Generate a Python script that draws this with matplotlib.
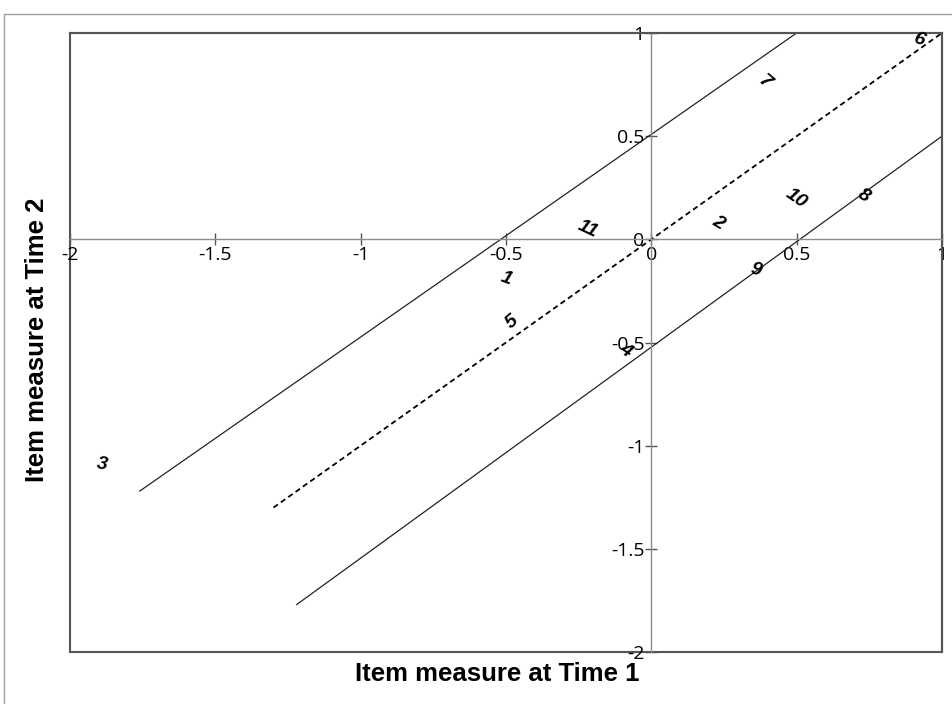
import matplotlib
matplotlib.use("Agg")
import matplotlib.pyplot as plt
from matplotlib.patches import Rectangle

# item labels and their positions (Time 1, Time 2)
item_names = ["1", "2", "3", "4", "5", "6", "7", "8", "9", "10", "11"]
time1 = [-0.50, 0.23, -1.89, -0.09, -0.48, 0.92, 0.39, 0.73, 0.36, 0.50, -0.22]
time2 = [-0.19, 0.08, -1.09, -0.54, -0.40, 0.97, 0.76, 0.21, -0.15, 0.20, 0.05]
label_rot = [-20, -30, -10, -35, 40, -20, -40, -30, -15, -35, -25]

# identity line and control lines
ident_x = [-1.3, 1.0]
ident_y = [-1.3, 1.0]
upper_x = [-1.76, 0.5]
upper_y = [-1.22, 1.0]
lower_x = [-1.22, 1.0]
lower_y = [-1.77, 0.5]

ticks_x = [-2, -1.5, -1, -0.5, 0, 0.5, 1]
ticks_y = [-2, -1.5, -1, -0.5, 0, 0.5, 1]

plt.rcParams['font.family'] = ['Open Sans', 'DejaVu Sans']

fig = plt.figure(figsize=(9.53, 7.04), dpi=100)
# outer light border (top and left visible)
fig.patches.append(Rectangle((4 / 953, -0.1), 1.2, 1.1 - 14 / 704,
                             transform=fig.transFigure, fill=False,
                             edgecolor='#a0a0a0', linewidth=1))

ax = fig.add_axes([70 / 953, 1 - 652 / 704, 872 / 953, 619 / 704])
ax.set_xlim(-2, 1)
ax.set_ylim(-2, 1)

ax.plot(ident_x, ident_y, color='black', linestyle=(0, (3, 2)), linewidth=1.3)
ax.plot(upper_x, upper_y, color='#222222', linewidth=0.9)
ax.plot(lower_x, lower_y, color='#222222', linewidth=0.9)

for name, x, y, r in zip(item_names, time1, time2, label_rot):
    ax.text(x, y, name, rotation=r, ha='center', va='center',
            fontsize=14, fontweight='bold', fontstyle='italic',
            family='Liberation Sans', color='black')

for s in ['left', 'bottom']:
    ax.spines[s].set_position(('data', 0))
    ax.spines[s].set_color('#8c8c8c')
    ax.spines[s].set_linewidth(1.0)
for s in ['top', 'right']:
    ax.spines[s].set_color('#555555')
    ax.spines[s].set_linewidth(1.5)
ax.add_patch(Rectangle((0, 0), 1, 1, transform=ax.transAxes, fill=False,
                       edgecolor='#555555', linewidth=1.5, clip_on=False))

ax.set_xticks(ticks_x)
ax.set_yticks(ticks_y)
ax.set_xticklabels([f"{t:g}" for t in ticks_x])
ax.set_yticklabels([f"{t:g}" for t in ticks_y])
ax.tick_params(direction='inout', length=8, width=1, color='#555555',
               labelsize=14, pad=1)

fig.text(497 / 953, 1 - 674 / 704, "Item measure at Time 1", ha='center',
         va='center', fontsize=18.5, fontweight='bold', family='Liberation Sans')
fig.text(37 / 953, 1 - 340 / 704, "Item measure at Time 2", ha='center',
         va='center', rotation=90, fontsize=18.5, fontweight='bold',
         family='Liberation Sans')

fig.savefig("out.png", dpi=100)
